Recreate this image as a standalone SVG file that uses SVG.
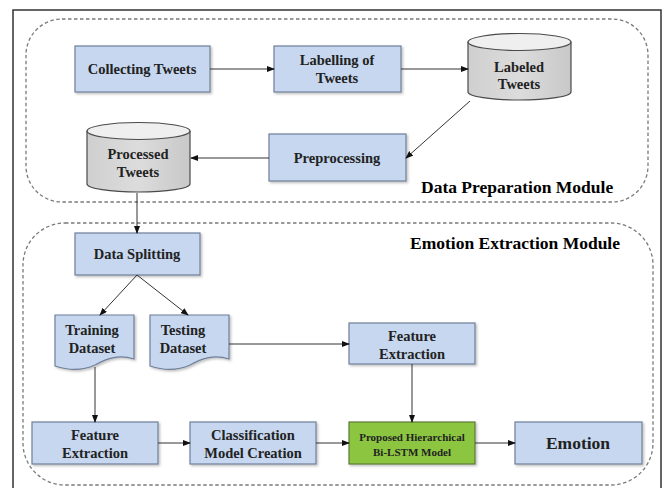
<svg xmlns="http://www.w3.org/2000/svg" width="667" height="488" viewBox="0 0 667 488">
<defs>
<marker id="ah" markerWidth="8" markerHeight="6" refX="7" refY="3" orient="auto" markerUnits="userSpaceOnUse">
<path d="M0,0 L8,3 L0,6 Z" fill="#111"/>
</marker>
<linearGradient id="cyl" x1="0" y1="0" x2="1" y2="0">
<stop offset="0" stop-color="#cfcfcf"/><stop offset="0.5" stop-color="#dcdcdc"/><stop offset="1" stop-color="#c8c8c8"/>
</linearGradient>
<filter id="sh" x="-10%" y="-10%" width="130%" height="130%">
<feDropShadow dx="1.5" dy="1.5" stdDeviation="1" flood-color="#000" flood-opacity="0.25"/>
</filter>
</defs>
<style>
.box{fill:#c6d7ef;stroke:#6f7f99;stroke-width:1.2;filter:url(#sh)}
.green{fill:#8cc63f;stroke:#5d7a3a;stroke-width:1.2;filter:url(#sh)}
.cyl{fill:url(#cyl);stroke:#4a4a4a;stroke-width:1.2}
.cyltop{fill:#efefef;stroke:#4a4a4a;stroke-width:1.2}
.mod{fill:none;stroke:#7a7a7a;stroke-width:1.3;stroke-dasharray:3.5 2.5}
text{font-family:'Liberation Serif','Times New Roman',serif;font-weight:bold}
.t{fill:#222;text-anchor:middle}
.s14{font-size:14.5px}
.s11{font-size:11px}
.m{fill:#000;font-size:17.5px}
.c{fill:none;stroke:#333;stroke-width:1;marker-end:url(#ah)}
</style>
<rect x="0" y="0" width="667" height="488" fill="#fff"/>
<rect x="13" y="10" width="648" height="490" fill="none" stroke="#333" stroke-width="1.5"/>

<g id="data-preparation-module">
<rect class="mod" x="26" y="19" width="622" height="183" rx="36" ry="36"/>
<text class="m" x="421" y="193">Data Preparation Module</text>
</g>
<g id="emotion-extraction-module">
<rect class="mod" x="23" y="223" width="630" height="262" rx="42" ry="42"/>
<text class="m" x="410" y="249">Emotion Extraction Module</text>
</g>

<g id="collecting-tweets">
<rect class="box" x="75" y="46" width="135" height="46"/>
<text class="t s14" x="142" y="74">Collecting Tweets</text>
</g>
<g id="labelling-of-tweets">
<rect class="box" x="274" y="46" width="127" height="46"/>
<text class="t s14" x="337" y="65">Labelling of</text>
<text class="t s14" x="337" y="83">Tweets</text>
</g>
<g id="labeled-tweets">
<path class="cyl" d="M468,42 V92 A51.5,8 0 0 0 571,92 V42"/>
<ellipse class="cyltop" cx="519.5" cy="42" rx="51.5" ry="8.5"/>
<text class="t s14" x="519" y="72">Labeled</text>
<text class="t s14" x="519" y="89">Tweets</text>
</g>
<g id="preprocessing">
<rect class="box" x="269" y="134" width="137" height="47"/>
<text class="t s14" x="337" y="163">Preprocessing</text>
</g>
<g id="processed-tweets">
<path class="cyl" d="M87,131 V184 A51.5,8 0 0 0 190,184 V131"/>
<ellipse class="cyltop" cx="138.5" cy="131" rx="51.5" ry="8.5"/>
<text class="t s14" x="138" y="159">Processed</text>
<text class="t s14" x="138" y="177">Tweets</text>
</g>
<g id="data-splitting">
<rect class="box" x="75" y="233" width="125" height="42"/>
<text class="t s14" x="137" y="259">Data Splitting</text>
</g>
<g id="training-dataset">
<path class="box" d="M55,315 H134 V359 C118,354 106,359 95,365 C82,371 67,370 55,366 Z"/>
<text class="t s14" x="92" y="335">Training</text>
<text class="t s14" x="92" y="353">Dataset</text>
</g>
<g id="testing-dataset">
<path class="box" d="M150,315 H229 V359 C213,354 201,359 190,365 C177,371 162,370 150,366 Z"/>
<text class="t s14" x="183" y="335">Testing</text>
<text class="t s14" x="183" y="353">Dataset</text>
</g>
<g id="feature-extraction-test">
<rect class="box" x="349" y="323" width="126" height="41"/>
<text class="t s14" x="412" y="341">Feature</text>
<text class="t s14" x="412" y="359">Extraction</text>
</g>
<g id="feature-extraction-train">
<rect class="box" x="32" y="422" width="126" height="42"/>
<text class="t s14" x="95" y="440">Feature</text>
<text class="t s14" x="95" y="458">Extraction</text>
</g>
<g id="classification-model-creation">
<rect class="box" x="190" y="422" width="126" height="42"/>
<text class="t s14" x="253" y="440">Classification</text>
<text class="t s14" x="253" y="458">Model Creation</text>
</g>
<g id="proposed-bilstm">
<rect class="green" x="349" y="422" width="126" height="42"/>
<text class="t s11" x="412" y="441">Proposed Hierarchical</text>
<text class="t s11" x="412" y="456">Bi-LSTM Model</text>
</g>
<g id="emotion">
<rect class="box" x="515" y="422" width="127" height="42"/>
<text class="t" style="font-size:17.5px" x="578" y="449">Emotion</text>
</g>

<g id="connectors">
<line class="c" x1="210" y1="69" x2="274" y2="69"/>
<line class="c" x1="401" y1="69" x2="468" y2="69"/>
<line class="c" x1="470" y1="101" x2="406" y2="158"/>
<line class="c" x1="269" y1="158" x2="191" y2="158"/>
<line class="c" x1="137" y1="193" x2="137" y2="233"/>
<line class="c" x1="137" y1="275" x2="100" y2="315"/>
<line class="c" x1="137" y1="275" x2="188" y2="315"/>
<line class="c" x1="229" y1="344" x2="349" y2="344"/>
<line class="c" x1="95" y1="367" x2="95" y2="422"/>
<line class="c" x1="412" y1="364" x2="412" y2="422"/>
<line class="c" x1="158" y1="443" x2="190" y2="443"/>
<line class="c" x1="316" y1="443" x2="349" y2="443"/>
<line class="c" x1="475" y1="443" x2="515" y2="443"/>
</g>
</svg>
